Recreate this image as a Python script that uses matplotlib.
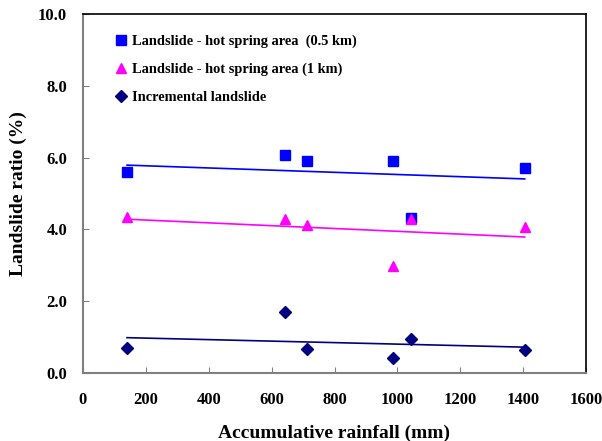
import numpy as np
import matplotlib
matplotlib.use("Agg")
import matplotlib.pyplot as plt

rain = [140, 644, 711, 987, 1043, 1405]
ratio_05km = [5.59, 6.07, 5.91, 5.91, 4.31, 5.71]
ratio_1km = [4.35, 4.28, 4.12, 2.98, 4.30, 4.07]
incremental = [0.69, 1.69, 0.67, 0.41, 0.95, 0.64]

labels = ["Landslide - hot spring area  (0.5 km)",
          "Landslide - hot spring area (1 km)",
          "Incremental landslide"]
xticks = [0, 200, 400, 600, 800, 1000, 1200, 1400, 1600]
yticks = [0.0, 2.0, 4.0, 6.0, 8.0, 10.0]

plt.rcParams['font.family'] = ['Liberation Serif', 'DejaVu Serif']
plt.rcParams['font.weight'] = 'bold'

fig = plt.figure(figsize=(6.02, 4.41), dpi=100)
ax = fig.add_axes([83/602, 68/441, 503/602, 359/441])

series = [(ratio_05km, 's', '#0000FF', 6.5),
          (ratio_1km, '^', '#FF00FF', 7.5),
          (incremental, 'D', '#000080', 6.0)]
x = np.array(rain, dtype=float)
for (vals, m, c, ms), lab in zip(series, labels):
    ax.plot(x, vals, linestyle='none', marker=m, color=c, markersize=ms, label=lab)
    k, b = np.polyfit(x, vals, 1)
    xs = np.array([x.min(), x.max()])
    ax.plot(xs, k * xs + b, color=c, linewidth=1.2)

ax.set_xlim(0, 1600)
ax.set_ylim(0, 10)
ax.set_xticks(xticks)
ax.set_yticks(yticks)
ax.set_yticklabels([f"{v:.1f}" for v in yticks])
ax.tick_params(direction='in', length=4, color='#808080', labelsize=12)
ax.tick_params(axis='x', pad=14)
ax.tick_params(axis='y', pad=11.5)
for s in ['left', 'bottom']:
    ax.spines[s].set_color('#808080')
    ax.spines[s].set_linewidth(1.5)
for s in ['top', 'right']:
    ax.spines[s].set_color('black')
    ax.spines[s].set_linewidth(1.2)

ax.set_xlabel("Accumulative rainfall (mm)", fontsize=14, fontweight='bold', labelpad=12)
ax.set_ylabel("Landslide ratio (%)", fontsize=14, fontweight='bold', labelpad=8)

leg = ax.legend(loc='upper left', bbox_to_anchor=(0.052, 0.958), frameon=False,
                fontsize=10.4, handlelength=0.8, handletextpad=0.4,
                labelspacing=1.0, borderaxespad=0)

fig.savefig("out.png", dpi=100)
